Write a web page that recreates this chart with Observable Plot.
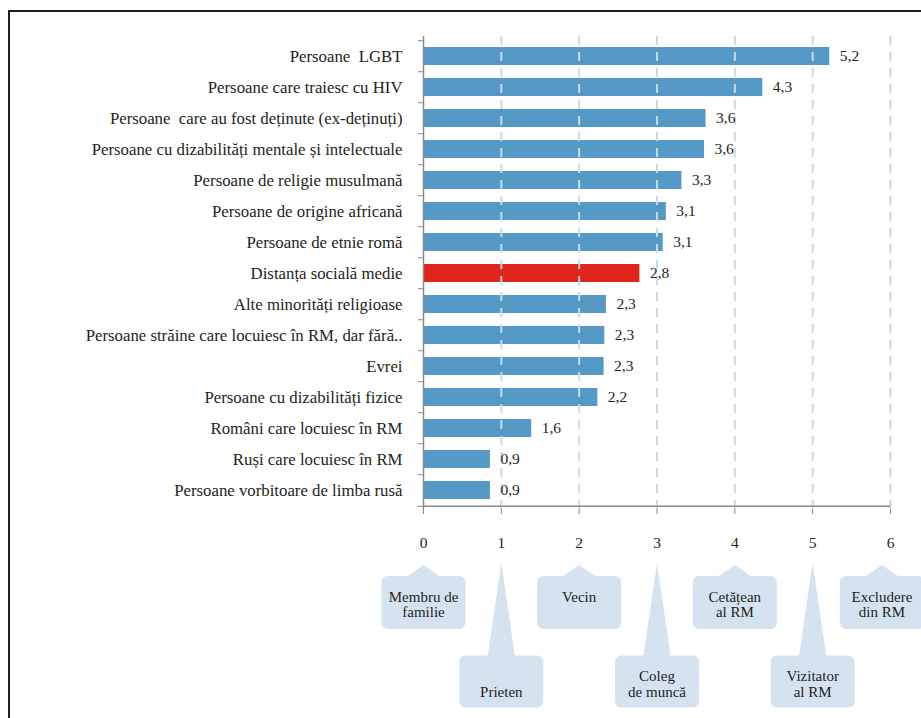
<!DOCTYPE html>
<html>
<head>
<meta charset="utf-8">
<script src="https://cdn.jsdelivr.net/npm/d3@7"></script>
<script src="https://cdn.jsdelivr.net/npm/@observablehq/plot@0.6"></script>
<style>
  html, body { margin: 0; padding: 0; background: #fff; overflow: hidden; }
  #wrap { position: relative; width: 921px; height: 718px; overflow: hidden; }
  #wrap svg { position: absolute; left: 0; top: 0; }
  #wrap svg, #wrap svg text { font-family: "Liberation Serif", "Times New Roman", Tinos, "DejaVu Serif", "Noto Serif", FreeSerif, serif !important; }
  #border { position: absolute; left: 8px; top: 10px; width: 1200px; height: 1200px;
            border-left: 2px solid #231f20; border-top: 2px solid #231f20; }
</style>
</head>
<body>
<div id="wrap"><div id="border"></div></div>
<script>
// ---- data ----
const categories = [
  "Persoane\u00a0 LGBT",
  "Persoane care traiesc cu HIV",
  "Persoane\u00a0 care au fost deținute (ex-deținuți)",
  "Persoane cu dizabilități mentale și intelectuale",
  "Persoane de religie musulmană",
  "Persoane de origine africană",
  "Persoane de etnie romă",
  "Distanța socială medie",
  "Alte minorități religioase",
  "Persoane străine care locuiesc în RM, dar fără..",
  "Evrei",
  "Persoane cu dizabilități fizice",
  "Români care locuiesc în RM",
  "Ruși care locuiesc în RM",
  "Persoane vorbitoare de limba rusă"
];
const barLengths = [5.22, 4.36, 3.63, 3.61, 3.32, 3.12, 3.08, 2.78, 2.35, 2.33, 2.32, 2.24, 1.39, 0.86, 0.86];
const valueLabels = ["5,2", "4,3", "3,6", "3,6", "3,3", "3,1", "3,1", "2,8", "2,3", "2,3", "2,3", "2,2", "1,6", "0,9", "0,9"];
const highlight = "Distanța socială medie";
const xTicks = [0, 1, 2, 3, 4, 5, 6];
const calloutLabels = ["Membru de\nfamilie", "Prieten", "Vecin", "Coleg\nde muncă", "Cetățean\nal RM", "Vizitator\nal RM", "Excludere\ndin RM"];
const calloutRows = ["top", "bottom", "top", "bottom", "top", "bottom", "top"];

// ---- layout / style ----
const W = 921, H = 718, mL = 423, mR = 31, mT = 36, mB = 209;
const step = (H - mT - mB) / categories.length;
const serif = "Liberation Serif, Times New Roman, Tinos, DejaVu Serif, serif";
const blue = "#5599c6", red = "#e0261b", gridColor = "#c6daee", axisColor = "#8a8a8a",
      bubbleFill = "#d5e3f1", ink = "#231f20";

const rows = categories.map((c, i) => ({category: c, value: barLengths[i], label: valueLabels[i]}));
const callouts = xTicks.map((t, i) => ({tick: t, text: calloutLabels[i], row: calloutRows[i]}));
const topCallouts = callouts.filter(d => d.row === "top");
const bottomCallouts = callouts.filter(d => d.row === "bottom");
// the last bubble is nudged left so it stays inside the page, as in the original
const calloutX = d => d.tick === xTicks[xTicks.length - 1] ? d.tick - 0.11 : d.tick;

function bubble(w, h, pointer, halfBase, r) {
  const hw = w / 2, hh = h / 2;
  return {
    draw(ctx) {
      ctx.moveTo(-hw + r, -hh);
      ctx.lineTo(-halfBase, -hh);
      ctx.lineTo(0, -hh - pointer);
      ctx.lineTo(halfBase, -hh);
      ctx.lineTo(hw - r, -hh);
      ctx.arcTo(hw, -hh, hw, -hh + r, r);
      ctx.lineTo(hw, hh - r);
      ctx.arcTo(hw, hh, hw - r, hh, r);
      ctx.lineTo(-hw + r, hh);
      ctx.arcTo(-hw, hh, -hw, hh - r, r);
      ctx.lineTo(-hw, -hh + r);
      ctx.arcTo(-hw, -hh, -hw + r, -hh, r);
      ctx.closePath();
    }
  };
}
const topBubble = bubble(84, 53, 11, 16, 6);
const bottomBubble = bubble(84, 52, 93, 13.5, 6);

const chart = Plot.plot({
  width: W, height: H,
  marginLeft: mL, marginRight: mR, marginTop: mT, marginBottom: mB,
  style: {fontFamily: serif, fontSize: "15px", color: ink, background: "transparent", overflow: "visible"},
  x: {domain: [0, 6], label: null},
  y: {domain: categories, paddingInner: 0.42, paddingOuter: 0.21, label: null},
  marks: [
    Plot.barX(rows, {x: "value", y: "category", fill: d => d.category === highlight ? red : blue}),
    Plot.gridX(xTicks.filter(t => t > 0), {stroke: gridColor, strokeOpacity: 1, strokeWidth: 2, strokeDasharray: "9,7"}),
    Plot.ruleX([0], {stroke: axisColor, strokeWidth: 1.5}),
    Plot.ruleY([categories[categories.length - 1]], {x1: 0, x2: 6, dy: step / 2, stroke: axisColor, strokeWidth: 1.5}),
    Plot.axisY({tickSize: 0, tickPadding: 21, fontSize: 16.8, fontFamily: serif, fill: ink}),
    Plot.axisY(categories, {tickSize: 5, dy: -step / 2, tickFormat: () => "", stroke: axisColor}),
    Plot.axisY([categories[categories.length - 1]], {tickSize: 6, dy: step / 2, tickFormat: () => "", stroke: axisColor}),
    Plot.axisX(xTicks, {tickSize: 5, tickPadding: 22, fontSize: 15.5, fontFamily: serif, stroke: axisColor, fill: ink}),
    Plot.text(rows, {x: "value", y: "category", text: "label", dx: 10, textAnchor: "start", fontSize: 15.5, fontFamily: serif, fill: ink}),
    Plot.dot(topCallouts, {x: calloutX, frameAnchor: "bottom", dy: 93, r: 5, symbol: topBubble, fill: bubbleFill, stroke: "none"}),
    Plot.dot(bottomCallouts, {x: calloutX, frameAnchor: "bottom", dy: 172, r: 5, symbol: bottomBubble, fill: bubbleFill, stroke: "none"}),
    Plot.text(topCallouts, {x: calloutX, text: "text", frameAnchor: "bottom", dy: 81, lineAnchor: "top", lineHeight: 1.05, fontSize: 15, fontFamily: serif, fill: ink}),
    Plot.text(bottomCallouts, {x: calloutX, text: "text", frameAnchor: "bottom", dy: 187, lineAnchor: "bottom", lineHeight: 1.05, fontSize: 15, fontFamily: serif, fill: ink})
  ]
});
document.getElementById("wrap").appendChild(chart);
</script>
</body>
</html>
